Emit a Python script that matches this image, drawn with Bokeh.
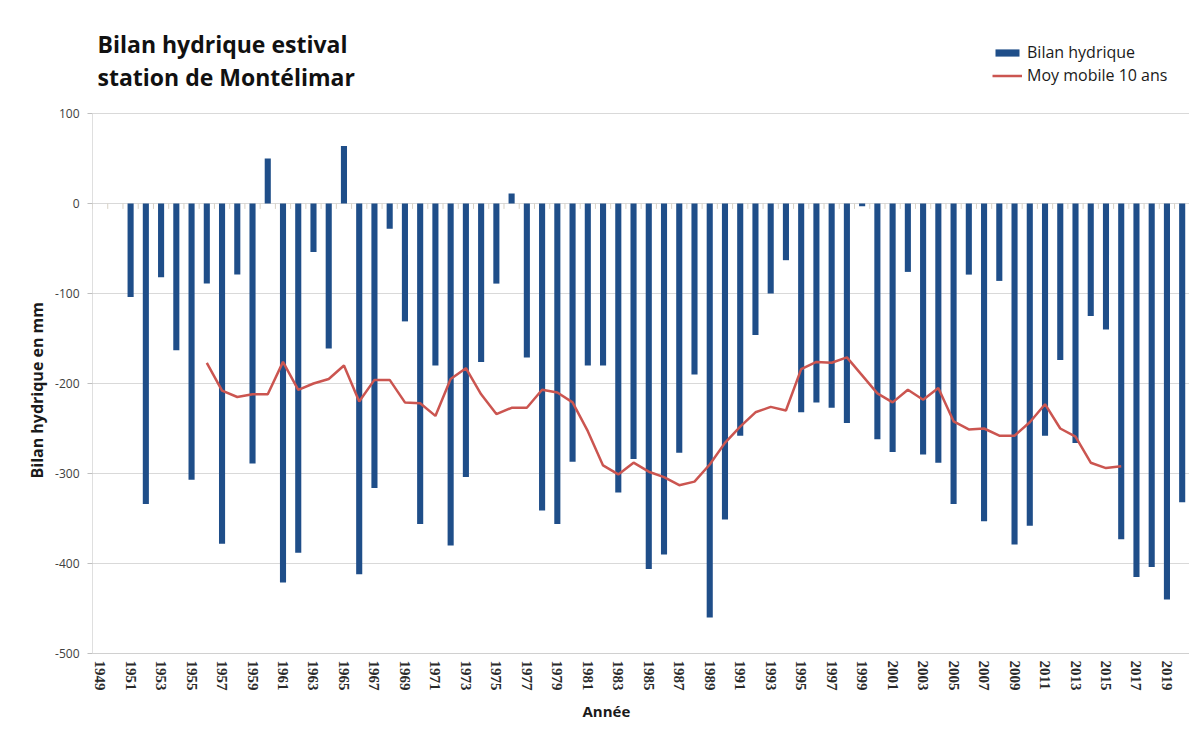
import numpy as np
from bokeh.plotting import figure
from bokeh.models import (Range1d, FixedTicker, Legend, LegendItem, Label,
                          Title, ColumnDataSource)
from bokeh.embed import file_html
from bokeh.resources import INLINE

# ---- data -------------------------------------------------------------
years = list(range(1949, 2021))
bilan = [None, None, -104, -334, -82, -163, -307, -89, -378, -79,
         -289, 50, -421, -388, -54, -161, 64, -412, -316, -28,
         -131, -356, -180, -380, -304, -176, -89, 11, -171, -341,
         -356, -287, -180, -180, -321, -284, -406, -390, -277, -190,
         -460, -351, -258, -146, -100, -63, -232, -221, -227, -244,
         -3, -262, -276, -76, -279, -288, -334, -79, -353, -86,
         -379, -358, -258, -174, -266, -125, -140, -373, -415, -404,
         -440, -332]
ma_years = list(range(1956, 2017))
moy_mobile = [-177, -208, -215, -212, -212, -176, -207, -200, -195, -180,
              -220, -196, -196, -221, -222, -236, -195, -183, -212, -234,
              -227, -227, -207, -210, -221, -253, -291, -301, -288, -298,
              -304, -313, -309, -290, -266, -248, -232, -226, -230, -184,
              -176, -177, -171, -191, -211, -221, -207, -218, -205, -242,
              -251, -250, -258, -258, -243, -223, -250, -259, -288, -294,
              -292]
y_ticks = [100, 0, -100, -200, -300, -400, -500]
y_tick_labels = ["100", "0", "-100", "-200", "-300", "-400", "-500"]
x_ticks = list(range(1949, 2020, 2))
x_tick_labels = [str(y) for y in x_ticks]

title_text = "Bilan hydrique estival\nstation de Montélimar"
y_title = "Bilan hydrique en mm"
x_title = "Année"
legend_labels = ["Bilan hydrique", "Moy mobile 10 ans"]

BLUE = "#1f4e89"
RED = "#cb5550"
FONT = "Open Sans"

bars = ColumnDataSource(dict(x=years,
                             top=[np.nan if v is None else v for v in bilan]))
line = ColumnDataSource(dict(x=ma_years, y=moy_mobile))
bounds = ColumnDataSource(dict(x=[y - 0.5 for y in years] + [years[-1] + 0.5]))

W, H = 1189, 725
BORDER_L, BORDER_B = 92, 72
FRAME_H = H - BORDER_B               # frame spans canvas y 0 .. 653
PX_PER_UNIT = 0.9                    # 100 mm = 90 px in the reference
y_top = y_ticks[0] + 113 / PX_PER_UNIT   # frame extends above "100" for title/legend

p = figure(width=W, height=H, output_backend="svg", toolbar_location=None,
           x_range=Range1d(years[0] - 0.5, years[-1] + 0.48),
           y_range=Range1d(y_ticks[-1], y_top),
           min_border_left=BORDER_L, min_border_right=0, min_border_top=0,
           min_border_bottom=BORDER_B)
p.outline_line_color = None
p.background_fill_color = "white"
p.border_fill_color = "white"

# left axis line (only over the value range) and small category ticks at zero
p.segment(x0=years[0] - 0.5, x1=years[0] - 0.5, y0=y_ticks[-1], y1=y_ticks[0],
          line_color="#bfbfbf", line_width=1)
p.segment(x0="x", x1="x", y0=0, y1=-6, source=bounds,
          line_color="#d8d2c6", line_width=1)

r_bar = p.vbar(x="x", top="top", bottom=0, width=0.4, source=bars,
               fill_color=BLUE, line_color=None)
r_line = p.line(x="x", y="y", source=line, line_color=RED, line_width=2.5)

# axes
p.xgrid.grid_line_color = None
p.ygrid.grid_line_color = "#d9d9d9"
p.ygrid.grid_line_width = 1
p.yaxis.ticker = FixedTicker(ticks=y_ticks)
p.yaxis.major_label_overrides = dict(zip(y_ticks, y_tick_labels))
p.yaxis.major_tick_line_color = "#bfbfbf"
p.yaxis.major_tick_out = 5
p.yaxis.major_tick_in = 0
p.yaxis.minor_tick_line_color = None
p.yaxis.axis_line_color = None
p.yaxis.major_label_text_font = FONT
p.yaxis.major_label_text_font_size = "12px"
p.yaxis.major_label_text_color = "#404040"
p.yaxis.major_label_standoff = 8

p.xaxis.ticker = FixedTicker(ticks=x_ticks)
p.xaxis.major_label_overrides = dict(zip(x_ticks, x_tick_labels))
p.xaxis.major_label_orientation = "vertical"
p.xaxis.major_tick_line_color = None
p.xaxis.minor_tick_line_color = None
p.xaxis.axis_line_color = "#d0d0d0"
p.xaxis.major_label_text_font = "Liberation Serif"
p.xaxis.major_label_text_font_size = "15px"
p.xaxis.major_label_text_font_style = "bold"
p.xaxis.major_label_text_color = "#2a2a2a"
p.xaxis.major_label_standoff = 1

# axis titles as side titles (allow off-centre placement like the reference)
p.add_layout(Title(text=y_title, align="left", offset=175, standoff=10,
                   text_font=FONT, text_font_size="16px",
                   text_font_style="bold", text_color="#1a1a1a"), "left")
p.add_layout(Title(text=x_title, align="left", offset=490, standoff=10,
                   text_font=FONT, text_font_size="15px",
                   text_font_style="bold", text_color="#1a1a1a"), "below")

# chart title (screen units are relative to the frame bottom-left)
p.add_layout(Label(x=5, y=FRAME_H - 27, x_units="screen", y_units="screen",
                   text=title_text, text_font=FONT, text_font_size="23px",
                   text_font_style="bold", text_color="#111111",
                   text_baseline="top", text_align="left",
                   text_line_height=1.05))

legend = Legend(items=[LegendItem(label=legend_labels[0], renderers=[r_bar]),
                       LegendItem(label=legend_labels[1], renderers=[r_line])],
                location=(900, FRAME_H - 86), margin=0,
                background_fill_alpha=0, border_line_color=None,
                label_text_font=FONT, label_text_font_size="16px",
                label_text_color="#1a1a1a", glyph_width=30, glyph_height=9,
                label_height=20, spacing=1, padding=0, label_standoff=5)
p.add_layout(legend, "center")

open("out.html", "w").write(file_html(p, INLINE))
